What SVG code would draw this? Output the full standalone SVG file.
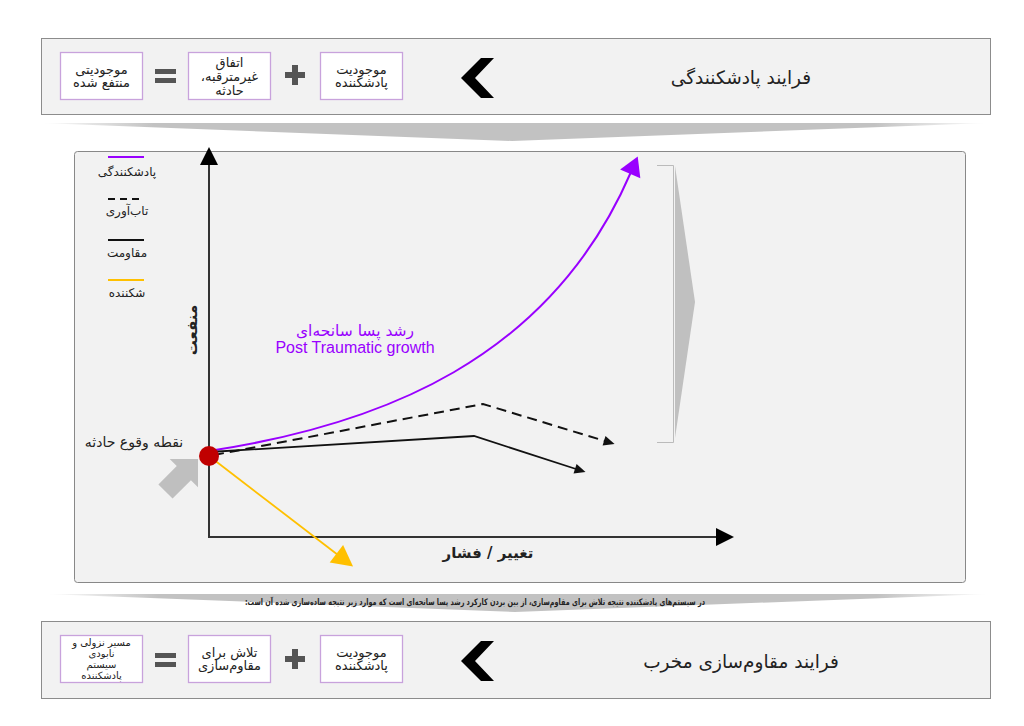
<svg xmlns="http://www.w3.org/2000/svg" width="1024" height="726" viewBox="0 0 1024 726">
<style>
.bar{fill:#f2f2f2;stroke:#8c8c8c;stroke-width:1}
.box{fill:#ffffff;stroke:#c8a2dc;stroke-width:1.3}
.fa{font-family:"DejaVu Sans","Noto Sans",sans-serif;direction:rtl;text-anchor:middle;fill:#222}
.bt{font-size:13px}
.op{fill:#555}
.chev{fill:#000}
.leg{font-size:12px}
</style>
<defs>
<linearGradient id="wedge" x1="0" y1="0" x2="1" y2="0">
<stop offset="0" stop-color="#ffffff"/>
<stop offset="0.12" stop-color="#c2c2c2"/>
<stop offset="0.88" stop-color="#c2c2c2"/>
<stop offset="1" stop-color="#ffffff"/>
</linearGradient>
<marker id="mPurple" markerUnits="userSpaceOnUse" markerWidth="24" markerHeight="24" refX="2" refY="11" orient="auto" overflow="visible">
<path d="M0,0 L19,11 L0,22 z" fill="#9900ff"/>
</marker>
<marker id="mBlack" markerUnits="userSpaceOnUse" markerWidth="12" markerHeight="12" refX="1" refY="5" orient="auto" overflow="visible">
<path d="M0,0 L11,5 L0,10 z" fill="#111"/>
</marker>
<marker id="mYellow" markerUnits="userSpaceOnUse" markerWidth="24" markerHeight="24" refX="2" refY="11" orient="auto" overflow="visible">
<path d="M0,0 L21,11 L0,22 z" fill="#ffc000"/>
</marker>
</defs>
<rect width="1024" height="726" fill="#ffffff"/>

<!-- top bar -->
<g id="top-bar">
<rect class="bar" x="41.5" y="38.5" width="949" height="76"/>
<text class="fa" x="741" y="84" font-size="18.5">فرایند پادشکنندگی</text>
<polygon class="chev" points="494,58 481,58 461,78 481,98 494,98 475,78"/>
</g>
<g id="top-box1">
<rect class="box" x="320.5" y="52.5" width="82" height="47"/>
<text class="fa bt" x="361.5" y="74">موجودیت</text>
<text class="fa bt" x="361.5" y="87">پادشکننده</text>
</g>
<g id="top-plus"><rect class="op" x="285" y="72" width="20" height="6"/><rect class="op" x="292" y="65" width="6" height="20"/></g>
<g id="top-box2">
<rect class="box" x="188.5" y="52.5" width="82" height="47"/>
<text class="fa bt" x="229.5" y="67">اتفاق</text>
<text class="fa bt" x="229.5" y="81">غیرمترقبه،</text>
<text class="fa bt" x="229.5" y="95">حادثه</text>
</g>
<g id="top-equals"><rect class="op" x="155" y="69" width="21" height="5"/><rect class="op" x="155" y="78" width="21" height="5"/></g>
<g id="top-box3">
<rect class="box" x="60.5" y="52.5" width="82" height="47"/>
<text class="fa bt" x="101.5" y="74">موجودیتی</text>
<text class="fa bt" x="101.5" y="87">منتفع شده</text>
</g>

<polygon points="40,123 988,123 512,141" fill="url(#wedge)"/>

<!-- chart panel -->
<g id="chart">
<rect x="74.5" y="151.5" width="891" height="431" rx="3" fill="#f2f2f2" stroke="#888" stroke-width="1"/>
<line x1="209" y1="538" x2="209" y2="162" stroke="#333" stroke-width="2"/>
<polygon points="209,147 200,165 218,165" fill="#000"/>
<line x1="208" y1="537" x2="718" y2="537" stroke="#333" stroke-width="2"/>
<polygon points="734,537 716,528 716,546" fill="#000"/>
<text class="fa" x="0" y="0" font-size="15" font-weight="bold" transform="translate(197,330) rotate(-90)">منفعت</text>
<text class="fa" x="488" y="558" font-size="15" font-weight="bold">تغییر / فشار</text>

<g id="legend">
<line x1="108" y1="157" x2="144" y2="157" stroke="#9900ff" stroke-width="2"/>
<text class="fa leg" x="127" y="176">پادشکنندگی</text>
<line x1="108" y1="199" x2="144" y2="199" stroke="#111" stroke-width="2" stroke-dasharray="7,5"/>
<text class="fa leg" x="127" y="215">تاب&#8204;آوری</text>
<line x1="108" y1="240" x2="144" y2="240" stroke="#111" stroke-width="2"/>
<text class="fa leg" x="127" y="257">مقاومت</text>
<line x1="108" y1="280" x2="144" y2="280" stroke="#ffc000" stroke-width="2"/>
<text class="fa leg" x="127" y="297">شکننده</text>
</g>

<polyline points="657,165.5 673.5,165.5 673.5,442.5 657,442.5" fill="none" stroke="#bbb" stroke-width="1"/>
<polygon points="675,166 695,302 675,438" fill="#c0c0c0"/>

<text class="fa" x="355" y="336" font-size="15.5" style="fill:#9900ff">رشد پسا سانحه&#8204;ای</text>
<text x="355" y="353" font-size="16" fill="#9900ff" font-family="Liberation Sans, Arial, sans-serif" text-anchor="middle">Post Traumatic growth</text>
<text class="fa" x="134" y="447" font-size="14">نقطه وقوع حادثه</text>
</g>

<!-- connectors -->
<g id="connectors">
<path d="M209,451 C380,425 550,360 631,172" fill="none" stroke="#9900ff" stroke-width="2" marker-end="url(#mPurple)"/>
<path d="M214,455 L483,404 L605,441" fill="none" stroke="#111" stroke-width="2" stroke-dasharray="10,6" marker-end="url(#mBlack)"/>
<path d="M210,452 L474,436 L576,469" fill="none" stroke="#111" stroke-width="1.8" marker-end="url(#mBlack)"/>
<path d="M209,456 L338,555" fill="none" stroke="#ffc000" stroke-width="1.8" marker-end="url(#mYellow)"/>
</g>

<g id="incident-point">
<polygon points="0,0 -20,-20 -20,-10 -46,-10 -46,10 -20,10 -20,20" fill="#bfbfbf" transform="translate(198,459) rotate(-45)"/>
<circle cx="209" cy="456" r="10" fill="#c00000"/>
</g>

<polygon points="45,594 990,594 515,612" fill="url(#wedge)"/>
<text class="fa" x="475" y="605" font-size="9" font-weight="bold" textLength="460" lengthAdjust="spacingAndGlyphs">در سیستم&#8204;های پادشکننده نتیجه تلاش برای مقاوم&#8204;سازی، از بین بردن کارکرد رشد پسا سانحه&#8204;ای است که موارد زیر نتیجه ساده&#8204;سازی شده آن است:</text>

<!-- bottom bar -->
<g id="bottom-bar">
<rect class="bar" x="41.5" y="621.5" width="949" height="77"/>
<text class="fa" x="741" y="668" font-size="18.5">فرایند مقاوم&#8204;سازی مخرب</text>
<polygon class="chev" points="494,641 481,641 461,661 481,681 494,681 475,661"/>
</g>
<g id="bottom-box1">
<rect class="box" x="320.5" y="635.5" width="82" height="47"/>
<text class="fa bt" x="361.5" y="657">موجودیت</text>
<text class="fa bt" x="361.5" y="670">پادشکننده</text>
</g>
<g id="bottom-plus"><rect class="op" x="285" y="656" width="20" height="6"/><rect class="op" x="292" y="649" width="6" height="20"/></g>
<g id="bottom-box2">
<rect class="box" x="188.5" y="635.5" width="82" height="47"/>
<text class="fa bt" x="229.5" y="657">تلاش برای</text>
<text class="fa bt" x="229.5" y="670">مقاوم&#8204;سازی</text>
</g>
<g id="bottom-equals"><rect class="op" x="155" y="653" width="21" height="5"/><rect class="op" x="155" y="662" width="21" height="5"/></g>
<g id="bottom-box3">
<rect class="box" x="60.5" y="635.5" width="82" height="47"/>
<text class="fa" x="101.5" y="646" font-size="10">مسیر نزولی و</text>
<text class="fa" x="101.5" y="657" font-size="10">نابودی</text>
<text class="fa" x="101.5" y="668" font-size="10">سیستم</text>
<text class="fa" x="101.5" y="679" font-size="10">پادشکننده</text>
</g>
</svg>
